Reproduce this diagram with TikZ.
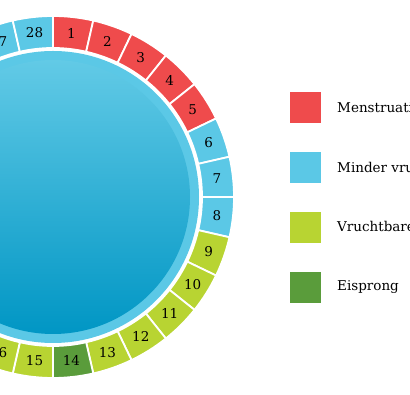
\documentclass[tikz,border=0pt]{standalone}
\usepackage{fontspec}
\setmainfont{DejaVu Serif}
\usetikzlibrary{calc}
\definecolor{mred}{HTML}{EF4B4C}
\definecolor{mblue}{HTML}{5BC8E6}
\definecolor{mlime}{HTML}{B8D432}
\definecolor{mgreen}{HTML}{5A9C3B}
\definecolor{discTop}{HTML}{62CAE6}
\definecolor{discBot}{HTML}{0096C4}
\tikzset{
  numlabel/.style={font=\fontsize{13.5}{14}\selectfont, text=black, inner sep=0pt},
  legbox/.style={minimum width=31, minimum height=31, inner sep=0pt, draw=none},
  legtext/.style={font=\fontsize{13.5}{14}\selectfont, anchor=west, inner sep=0pt},
  segment/.style={draw=white, line width=1.8pt}
}
\begin{document}
\begin{tikzpicture}[x=1pt,y=1pt]
\useasboundingbox (0,0) rectangle (410,395);
\clip (0,0) rectangle (410,395);
\coordinate (c) at (53,198);
\fill[mblue] (c) circle (146);
\shade[top color=discTop, bottom color=discBot] (c) circle (137);
\foreach \i/\col in {1/mred,2/mred,3/mred,4/mred,5/mred,6/mblue,7/mblue,8/mblue,9/mlime,10/mlime,11/mlime,12/mlime,13/mlime,14/mgreen,15/mlime,16/mlime,17/mblue,18/mblue,19/mblue,20/mblue,21/mblue,22/mblue,23/mblue,24/mblue,25/mblue,26/mblue,27/mblue,28/mblue}{
  \pgfmathsetmacro\a{90-(\i-1)*360/28}
  \pgfmathsetmacro\b{90-\i*360/28}
  \pgfmathsetmacro\m{90-(\i-0.5)*360/28}
  \fill[\col, segment] ($(c)+(\a:181)$) arc[start angle=\a, end angle=\b, radius=181] -- ($(c)+(\b:149)$) arc[start angle=\b, end angle=\a, radius=149] -- cycle;
  \node[numlabel] (n\i) at ($(c)+(\m:165)$) {\i};
}
\node[legbox, fill=mred, anchor=south west] (l1) at (290,272) {};
\node[legbox, fill=mblue, anchor=south west] (l2) at (290,212) {};
\node[legbox, fill=mlime, anchor=south west] (l3) at (290,152) {};
\node[legbox, fill=mgreen, anchor=south west] (l4) at (290,92) {};
\node[legtext] (t1) at (337,287.5) {Menstruatie};
\node[legtext] (t2) at (337,227.5) {Minder vruchtbaar};
\node[legtext] (t3) at (337,167.5) {Vruchtbare dagen};
\node[legtext] (t4) at (337,107.5) {Eisprong};
\end{tikzpicture}
\end{document}
